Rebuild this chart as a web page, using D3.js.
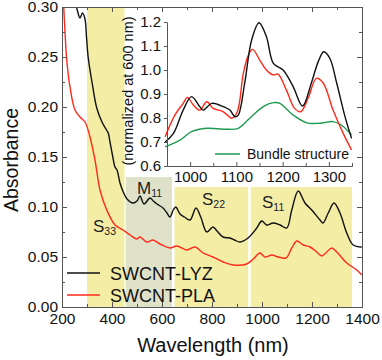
<!DOCTYPE html>
<html><head><meta charset="utf-8">
<script src="https://cdn.jsdelivr.net/npm/d3@7"></script>
<style>body{margin:0;background:#fff} text{font-family:"Liberation Sans",Arial,Helvetica,sans-serif;fill:#111}</style>
</head><body><svg id="c" width="382" height="360"></svg>
<script>
// ---- Main plot data ----
const lyzWl  = [250,262,272,282,292,298,305,320,339,360,378,385,392,404,412,420,432,445,460,484,500,512,528,552,565,580,604,620,632,645,655,672,690,712,736,755,779,804,820,844,872,890,912,944,979,999,1019,1044,1072,1099,1119,1145,1172,1199,1232,1244,1265,1288,1312,1339,1365,1399];
const lyzAbs = [0.310,0.296,0.289,0.294,0.288,0.270,0.249,0.225,0.199,0.185,0.177,0.174,0.165,0.149,0.140,0.137,0.124,0.115,0.108,0.104,0.106,0.111,0.103,0.109,0.106,0.103,0.099,0.094,0.090,0.097,0.100,0.093,0.090,0.087,0.099,0.090,0.075,0.080,0.076,0.070,0.069,0.067,0.065,0.069,0.079,0.086,0.082,0.084,0.082,0.079,0.097,0.116,0.104,0.097,0.087,0.084,0.094,0.104,0.094,0.074,0.062,0.060];
const plaWl  = [205,212,219,232,252,272,292,312,332,352,379,412,444,472,499,512,539,564,592,632,659,699,732,765,804,845,885,939,965,992,1012,1039,1065,1096,1119,1139,1165,1192,1219,1239,1259,1279,1299,1339,1379,1399];
const plaAbs = [0.310,0.275,0.247,0.220,0.197,0.190,0.185,0.170,0.147,0.117,0.097,0.082,0.077,0.072,0.068,0.070,0.065,0.067,0.063,0.059,0.061,0.057,0.060,0.054,0.050,0.045,0.042,0.043,0.048,0.054,0.050,0.052,0.050,0.049,0.059,0.066,0.062,0.060,0.055,0.051,0.055,0.059,0.055,0.044,0.037,0.032];
const seriesNames = ["SWCNT-LYZ","SWCNT-PLA"];

// ---- Bands ----
const bandNames = ["S","M","S","S"];
const bandSubs  = ["33","11","22","11"];
const bandStart = [300,455,650,955];
const bandEnd   = [450,640,945,1360];
const bandTop   = [0.30,0.13,0.12,0.12];

// ---- Inset data (normalized at 600 nm) ----
const inLyzWl = [946,964,985,1003,1021,1028,1047,1072,1086,1097,1104,1118,1133,1149,1165,1180,1201,1223,1243,1262,1277,1289,1302,1317,1334,1349];
const inLyzV  = [0.700,0.736,0.833,0.889,0.847,0.833,0.861,0.847,0.833,0.805,0.812,0.945,1.125,1.197,1.139,1.028,1.000,0.930,0.850,0.945,1.035,1.076,1.049,0.945,0.812,0.715];
const inPlaWl = [946,967,985,994,1007,1021,1036,1050,1072,1090,1102,1115,1126,1135,1151,1165,1180,1190,1208,1226,1239,1255,1273,1288,1309,1331,1349];
const inPlaV  = [0.722,0.812,0.861,0.886,0.854,0.833,0.868,0.840,0.826,0.799,0.826,0.986,1.062,1.086,1.040,1.000,0.979,0.983,0.917,0.840,0.826,0.882,0.965,0.945,0.833,0.736,0.667];
const inBunWl = [946,978,1003,1036,1079,1104,1129,1158,1180,1194,1223,1252,1280,1309,1327,1349];
const inBunV  = [0.680,0.708,0.743,0.757,0.753,0.757,0.799,0.847,0.864,0.861,0.812,0.780,0.778,0.785,0.771,0.729];
const insetLegend = "Bundle structure";

// ---- Ticks ----
const xMajor = [200,400,600,800,1000,1200,1400];
const xMinor = [300,500,700,900,1100,1300];
const yMajor = [0.00,0.05,0.10,0.15,0.20,0.25,0.30];
const yMinor = [0.025,0.075,0.125,0.175,0.225,0.275];
const inXMajor = [1000,1100,1200,1300];
const inXMinor = [950,1050,1150,1250,1350];
const inYMajor = [0.6,0.7,0.8,0.9,1.0,1.1,1.2];

const svg = d3.select("#c");
const axisCol = "#555";
const cBlack = "#111", cRed = "#ff2a1a", cGreen = "#1f9a52";

const x = d3.scaleLinear().domain([200,1400]).range([62,362]);
const y = d3.scaleLinear().domain([0,0.30]).range([307,7]);

svg.append("clipPath").attr("id","clipMain").append("rect")
  .attr("x",62).attr("y",7).attr("width",300).attr("height",300);

// bands
const bandCols = ["#f4eda6","#dfe2c9","#f4eda6","#f4eda6"];
const bands = svg.append("g");
bandNames.forEach((n,i)=>{
  bands.append("rect").attr("x",x(bandStart[i])).attr("y",y(bandTop[i]))
    .attr("width",x(bandEnd[i])-x(bandStart[i])).attr("height",y(0)-y(bandTop[i]))
    .attr("fill",bandCols[i]);
});
// band labels
const labelPos = [[324,0.075],[500,0.113],[760,0.102],[1000,0.099]];
bandNames.forEach((n,i)=>{
  const t = svg.append("text").attr("x",x(labelPos[i][0])).attr("y",y(labelPos[i][1]))
    .attr("font-size",17).style("fill","#222");
  t.append("tspan").text(n);
  t.append("tspan").attr("font-size",10.5).attr("dy",3).text(bandSubs[i]);
});

// curves
const lineMain = d3.line().x(d=>x(d[0])).y(d=>y(d[1])).curve(d3.curveCatmullRom.alpha(0.5));
const gCurves = svg.append("g").attr("clip-path","url(#clipMain)");
gCurves.append("path").datum(lyzWl.map((w,i)=>[w,lyzAbs[i]])).attr("d",lineMain)
  .attr("fill","none").attr("stroke",cBlack).attr("stroke-width",1.4);
gCurves.append("path").datum(plaWl.map((w,i)=>[w,plaAbs[i]])).attr("d",lineMain)
  .attr("fill","none").attr("stroke",cRed).attr("stroke-width",1.4);

// main axes
function styleAxis(g){ g.selectAll(".domain").attr("stroke",axisCol); g.selectAll(".tick line").attr("stroke",axisCol); g.selectAll("text").attr("font-size",15.5).style("fill","#111").attr("font-family",null); }
svg.append("g").attr("transform","translate(0,307)")
  .call(d3.axisBottom(x).tickValues(xMajor).tickSizeInner(-5).tickSizeOuter(0).tickPadding(6).tickFormat(d3.format("d"))).call(styleAxis);
svg.append("g").attr("transform","translate(0,307)")
  .call(d3.axisBottom(x).tickValues(xMinor).tickSizeInner(-3).tickSizeOuter(0).tickFormat("")).call(styleAxis);
svg.append("g").attr("transform","translate(0,7)")
  .call(d3.axisTop(x).tickValues(xMajor).tickSizeInner(-5).tickSizeOuter(0).tickFormat("")).call(styleAxis);
svg.append("g").attr("transform","translate(0,7)")
  .call(d3.axisTop(x).tickValues(xMinor).tickSizeInner(-3).tickSizeOuter(0).tickFormat("")).call(styleAxis);
svg.append("g").attr("transform","translate(62,0)")
  .call(d3.axisLeft(y).tickValues(yMajor).tickSizeInner(-5).tickSizeOuter(0).tickPadding(4).tickFormat(d3.format(".2f"))).call(styleAxis);
svg.append("g").attr("transform","translate(62,0)")
  .call(d3.axisLeft(y).tickValues(yMinor).tickSizeInner(-3).tickSizeOuter(0).tickFormat("")).call(styleAxis);
svg.append("g").attr("transform","translate(362,0)")
  .call(d3.axisRight(y).tickValues(yMajor).tickSizeInner(-5).tickSizeOuter(0).tickFormat("")).call(styleAxis);
svg.append("g").attr("transform","translate(362,0)")
  .call(d3.axisRight(y).tickValues(yMinor).tickSizeInner(-3).tickSizeOuter(0).tickFormat("")).call(styleAxis);

// titles
svg.append("text").attr("transform","translate(18,160) rotate(-90)").attr("text-anchor","middle")
  .attr("font-size",19.5).text("Absorbance");
svg.append("text").attr("x",213).attr("y",352).attr("text-anchor","middle")
  .attr("font-size",20).text("Wavelength (nm)");

// legend
const legY = [273,295], legC = [cBlack,cRed];
seriesNames.forEach((s,i)=>{
  svg.append("line").attr("x1",67).attr("x2",100).attr("y1",legY[i]).attr("y2",legY[i])
    .attr("stroke",legC[i]).attr("stroke-width",1.5);
  svg.append("text").attr("x",110).attr("y",legY[i]+7).attr("font-size",18).text(s);
});

// ---- Inset ----
const xi = d3.scaleLinear().domain([950,1350]).range([167,352]);
const yi = d3.scaleLinear().domain([0.6,1.2]).range([166,22]);
const lineIn = d3.line().x(d=>xi(d[0])).y(d=>yi(d[1])).curve(d3.curveCatmullRom.alpha(0.5));
const gi = svg.append("g");
gi.append("path").datum(inBunWl.map((w,i)=>[w,inBunV[i]])).attr("d",lineIn)
  .attr("fill","none").attr("stroke",cGreen).attr("stroke-width",1.4);
gi.append("path").datum(inPlaWl.map((w,i)=>[w,inPlaV[i]])).attr("d",lineIn)
  .attr("fill","none").attr("stroke",cRed).attr("stroke-width",1.4);
gi.append("path").datum(inLyzWl.map((w,i)=>[w,inLyzV[i]])).attr("d",lineIn)
  .attr("fill","none").attr("stroke",cBlack).attr("stroke-width",1.4);

function styleInset(g){ g.selectAll(".domain").attr("stroke",axisCol); g.selectAll(".tick line").attr("stroke",axisCol); g.selectAll("text").attr("font-size",15).style("fill","#111").attr("font-family",null); }
svg.append("g").attr("transform","translate(0,166)")
  .call(d3.axisBottom(xi).tickValues(inXMajor).tickSizeInner(-4).tickSizeOuter(0).tickPadding(5).tickFormat(d3.format("d"))).call(styleInset);
svg.append("g").attr("transform","translate(0,166)")
  .call(d3.axisBottom(xi).tickValues(inXMinor).tickSizeInner(-3).tickSizeOuter(0).tickFormat("")).call(styleInset);
svg.append("g").attr("transform","translate(167,0)")
  .call(d3.axisLeft(yi).tickValues(inYMajor).tickSizeInner(3).tickSizeOuter(0).tickPadding(3).tickFormat(d3.format(".1f"))).call(styleInset);
svg.append("text").attr("transform","translate(133,91) rotate(-90)").attr("text-anchor","middle")
  .attr("font-size",14.5).text("(normalized at 600 nm)");
// inset legend
svg.append("line").attr("x1",215).attr("x2",240).attr("y1",154).attr("y2",154)
  .attr("stroke",cGreen).attr("stroke-width",1.5);
svg.append("text").attr("x",247).attr("y",159).attr("font-size",14).text(insetLegend);
</script></body></html>
